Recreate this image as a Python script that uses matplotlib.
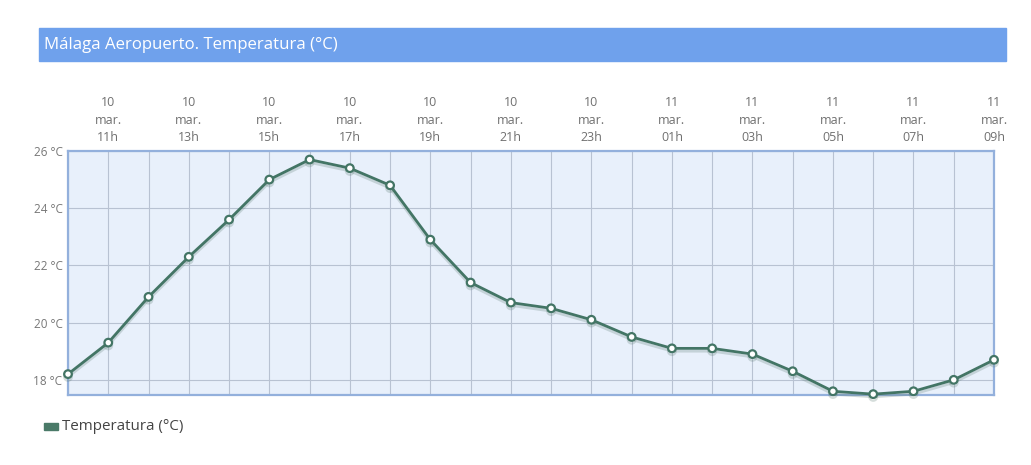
import numpy as np
import matplotlib
matplotlib.use('Agg')
import matplotlib.pyplot as plt
import matplotlib.patheffects as pe

plt.rcParams['font.family'] = ['Open Sans', 'DejaVu Sans']

# hours from 10 mar 10h to 11 mar 09h
hours = list(range(10, 34))
temps = [18.2, 19.3, 20.9, 22.3, 23.6, 25.0, 25.7, 25.4, 24.8, 22.9, 21.4, 20.7,
         20.5, 20.1, 19.5, 19.1, 19.1, 18.9, 18.3, 17.6, 17.5, 17.6, 18.0, 18.7]

tick_hours = list(range(11, 34, 2))
tick_labels = ['%d\nmar.\n%02dh' % (10 if h < 24 else 11, h % 24) for h in tick_hours]
y_ticks = [18, 20, 22, 24, 26]

line_col = '#437565'

fig = plt.figure(figsize=(10.31, 4.65), dpi=100)

# title bar
fig.patches.append(plt.Rectangle((39/1031, 1-61/465), (1006-39)/1031, 33/465,
                                 transform=fig.transFigure, color='#6fa1ec', zorder=0))
fig.text(44/1031, 1-45/465, 'Málaga Aeropuerto. Temperatura (°C)', color='white',
         fontsize=12.1, va='center', ha='left')

ax = fig.add_axes([68/1031, 1-395/465, (994-68)/1031, (395-151)/465])
ax.set_facecolor('#e8f0fb')
ax.plot(hours, temps, color=line_col, lw=2, marker='o', ms=5.5,
        mfc='white', mec=line_col, mew=1.6, zorder=5, clip_on=False,
        path_effects=[pe.SimpleLineShadow(offset=(0, -2), shadow_color='#5a7a70', alpha=0.25),
                      pe.Normal()])

ax.set_xlim(10, 33)
ax.set_ylim(17.47, 26)
ax.set_xticks(hours, minor=True)
ax.set_xticks(tick_hours)
ax.set_xticklabels(tick_labels)
ax.set_yticks(y_ticks)
ax.set_yticklabels(['%d °C' % v for v in y_ticks])
ax.xaxis.tick_top()
ax.tick_params(axis='x', which='both', length=0, pad=5, labelsize=9, colors='#707070')
ax.tick_params(axis='y', length=0, pad=4, labelsize=8.5, colors='#777777')
for lab in ax.get_xticklabels():
    lab.set_linespacing(1.45)

ax.grid(True, which='both', axis='x', color='#b8c2d2', lw=0.8)
ax.grid(True, which='major', axis='y', color='#b8c2d2', lw=0.8)
ax.set_axisbelow(True)
for s in ax.spines.values():
    s.set_color('#93b0dc')
    s.set_linewidth(1.6)

# legend
fig.patches.append(plt.Rectangle((44/1031, 1-430/465), 14/1031, 7/465,
                                 transform=fig.transFigure, color='#4a7a68'))
fig.text(62/1031, 1-426/465, 'Temperatura (°C)', color='#444444', fontsize=10.9,
         va='center', ha='left')

plt.savefig('out.png', dpi=100, facecolor='white')
